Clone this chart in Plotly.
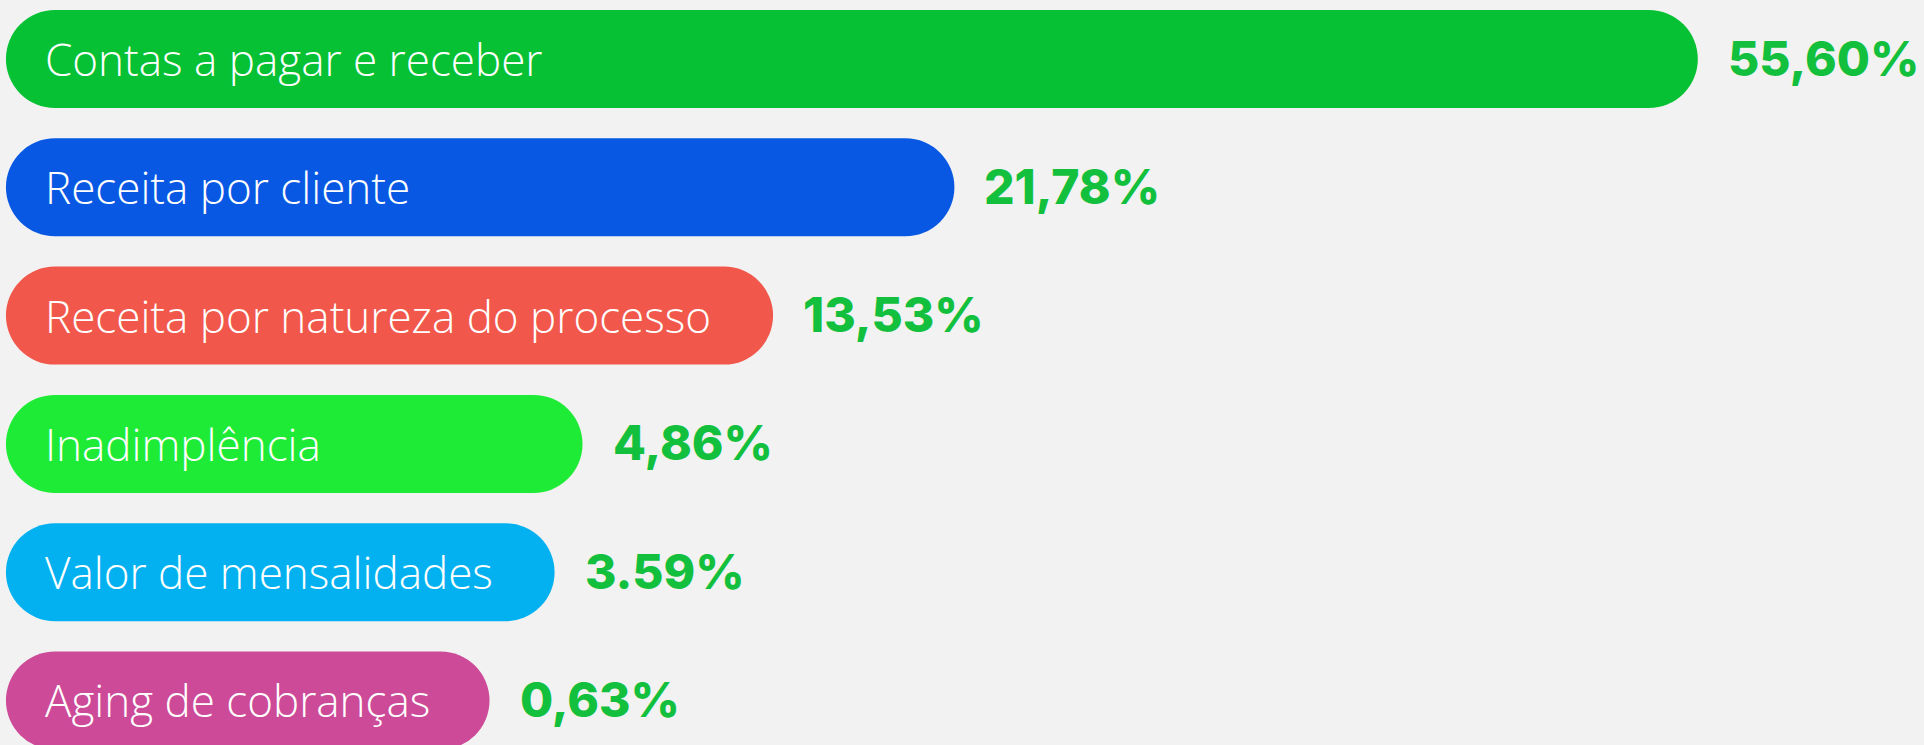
import plotly.graph_objects as go

# Share of each financial report
categories = [
    "Contas a pagar e receber",
    "Receita por cliente",
    "Receita por natureza do processo",
    "Inadimplência",
    "Valor de mensalidades",
    "Aging de cobranças",
]
values = [55.60, 21.78, 13.53, 4.86, 3.59, 0.63]
value_labels = ["55,60%", "21,78%", "13,53%", "4,86%", "3.59%", "0,63%"]
bar_colors = ["#05C133", "#0858E3", "#F1574A", "#1EEB36", "#03B1F0", "#CC4A98"]

BG = "#F2F2F2"
LABEL_GREEN = "#13C03E"

# The value axis starts below zero so that every pill has room for its caption
X_MIN, X_MAX = -21.64, 65.89
BAR_START = -21.37
BAR_WIDTH = 0.764

fig = go.Figure()

fig.add_trace(go.Bar(
    y=categories,
    x=[v - BAR_START for v in values],
    base=BAR_START,
    orientation="h",
    width=BAR_WIDTH,
    marker=dict(color=bar_colors, cornerradius="50%", line=dict(width=0)),
    hoverinfo="skip",
    showlegend=False,
))

annotations = []
for cat, v, lab in zip(categories, values, value_labels):
    annotations.append(dict(
        x=BAR_START, y=cat, xref="x", yref="y",
        text=cat, showarrow=False, xanchor="left", yanchor="middle",
        xshift=37,
        font=dict(family="Open Sans", size=44, color="white", weight=300),
    ))
    annotations.append(dict(
        x=v, y=cat, xref="x", yref="y",
        text=lab, showarrow=False, xanchor="left", yanchor="middle",
        xshift=28, yshift=1,
        font=dict(family="Inter", size=48, color=LABEL_GREEN, weight=800),
    ))

fig.update_layout(
    width=1924, height=745,
    margin=dict(l=0, r=0, t=0, b=0, pad=0),
    paper_bgcolor=BG, plot_bgcolor=BG,
    annotations=annotations,
    xaxis=dict(range=[X_MIN, X_MAX], visible=False, fixedrange=True),
    yaxis=dict(type="category", categoryorder="array", categoryarray=categories,
               range=[5.347, -0.46], visible=False, fixedrange=True),
)

fig.write_html("out.html", config={"displayModeBar": False})
